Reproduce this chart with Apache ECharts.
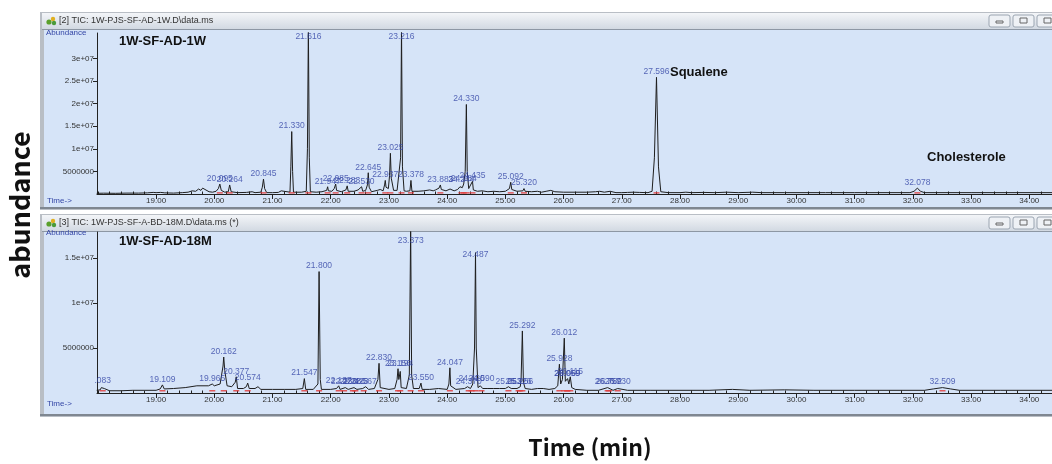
<!DOCTYPE html>
<html><head><meta charset="utf-8">
<script src="https://cdn.jsdelivr.net/npm/echarts@6/dist/echarts.min.js"></script>
<style>html,body{margin:0;padding:0;background:#fff}#c{width:1052px;height:464px}</style>
</head><body><div id="c"></div>
<script>
// ---------- DATA (abundance in millions, time in minutes) ----------
const xTicks = [19,20,21,22,23,24,25,26,27,28,29,30,31,32,33,34];
const yTickValsTop = [5,10,15,20,25,30];
const yTickLabelsTop = ['5000000','1e+07','1.5e+07','2e+07','2.5e+07','3e+07'];
const yTickValsBot = [5,10,15];
const yTickLabelsBot = ['5000000','1e+07','1.5e+07'];

const traceTop = [
[17.98,0.15],[18.10,0.18],[18.30,0.15],[18.50,0.2],[18.70,0.2],[18.85,0.25],[18.95,0.35],[19.00,0.3],[19.08,0.35],[19.15,0.25],
[19.30,0.2],[19.45,0.3],[19.55,0.4],[19.62,0.7],[19.68,0.6],[19.73,1.1],[19.77,0.8],[19.80,1.3],[19.84,1.0],[19.87,1.2],
[19.91,0.5],[19.97,0.4],[20.03,0.6],[20.07,1.2],[20.095,2.2],[20.12,0.8],[20.18,0.4],[20.24,0.5],[20.264,2.0],[20.29,0.5],
[20.40,0.3],[20.55,0.35],[20.65,0.5],[20.70,0.3],[20.80,0.4],[20.825,1.5],[20.845,3.3],[20.865,1.2],[20.90,0.3],[21.00,0.3],
[21.10,0.35],[21.15,0.7],[21.18,0.3],[21.30,0.4],[21.315,6],[21.330,13.8],[21.345,5],[21.36,0.4],[21.50,0.4],[21.58,0.6],
[21.60,10],[21.616,37],[21.632,8],[21.65,0.5],[21.75,0.4],[21.85,0.5],[21.93,0.8],[21.947,1.6],[21.96,0.7],[22.02,0.6],
[22.06,1.2],[22.085,2.2],[22.10,0.8],[22.18,0.5],[22.26,0.9],[22.283,1.8],[22.30,0.6],[22.40,0.6],[22.47,0.9],[22.50,1.2],
[22.530,1.6],[22.55,0.6],[22.60,0.8],[22.63,2],[22.645,4.7],[22.66,1.5],[22.70,0.5],[22.80,0.8],[22.85,1.0],[22.90,0.7],
[22.925,2.0],[22.937,3.0],[22.95,1.5],[22.99,1.2],[23.01,4],[23.025,9.0],[23.04,3.5],[23.08,0.8],[23.14,0.8],[23.20,8],
[23.216,37],[23.232,6],[23.26,0.7],[23.30,0.6],[23.36,0.7],[23.378,3.0],[23.395,0.6],[23.50,0.6],[23.60,0.7],[23.70,0.9],
[23.76,0.7],[23.80,0.9],[23.86,1.3],[23.883,2.0],[23.90,1.0],[23.98,0.7],[24.05,1.1],[24.12,0.7],[24.18,1.0],[24.22,1.6],
[24.244,1.9],[24.26,1.4],[24.284,2.2],[24.31,5],[24.330,19.8],[24.345,5],[24.37,1.2],[24.40,1.4],[24.435,2.8],[24.45,0.9],
[24.52,0.6],[24.60,0.7],[24.70,0.5],[24.80,0.6],[24.90,0.5],[25.00,0.6],[25.07,1.2],[25.092,2.6],[25.11,1.0],[25.20,0.6],
[25.30,0.7],[25.320,1.2],[25.34,0.6],[25.45,0.5],[25.55,0.6],[25.62,0.4],[25.70,0.6],[25.78,0.8],[25.85,0.5],[26.00,0.4],
[26.20,0.4],[26.40,0.4],[26.55,0.5],[26.62,0.6],[26.70,0.4],[26.80,0.6],[26.90,0.3],[27.00,0.3],[27.10,0.35],[27.20,0.4],
[27.30,0.35],[27.45,0.3],[27.52,0.6],[27.56,8],[27.596,25.8],[27.63,6],[27.67,0.5],[27.80,0.3],[28.00,0.3],[28.10,0.4],
[28.20,0.3],[28.40,0.35],[28.60,0.3],[28.80,0.4],[29.00,0.3],[29.25,0.4],[29.40,0.3],[29.80,0.3],[30.50,0.3],[31.00,0.3],
[31.60,0.3],[31.95,0.3],[32.02,0.6],[32.078,1.3],[32.13,0.6],[32.20,0.3],[33.00,0.3],[34.40,0.3]
];
const peaksTop = [
[20.095,2.2],[20.264,2.0],[20.845,3.3],[21.330,13.8],[21.616,33.6],[21.947,1.6],[22.085,2.2],[22.283,1.8],[22.530,1.6],
[22.645,4.7],[22.937,3.0],[23.025,9.0],[23.216,33.6],[23.378,3.0],[23.883,2.0],[24.244,2.0],[24.284,2.2],[24.330,19.8],
[24.435,2.8],[25.092,2.6],[25.320,1.2],[27.596,25.8],[32.078,1.3]
];

const traceBot = [
[17.98,0.3],[18.04,0.35],[18.06,0.6],[18.083,0.8],[18.11,0.5],[18.20,0.25],[18.40,0.25],[18.60,0.3],[18.80,0.3],[19.00,0.3],
[19.07,0.45],[19.109,0.9],[19.14,0.45],[19.30,0.5],[19.50,0.6],[19.70,0.8],[19.90,0.8],[19.965,1.0],[20.00,0.8],[20.10,1.0],
[20.15,3.0],[20.162,4.0],[20.18,2.5],[20.22,0.8],[20.30,0.7],[20.36,1.2],[20.377,1.8],[20.40,0.5],[20.50,0.5],[20.55,0.7],
[20.574,1.1],[20.60,0.5],[20.70,0.5],[20.75,0.7],[20.80,0.4],[21.00,0.4],[21.20,0.4],[21.40,0.4],[21.52,0.5],[21.547,1.6],
[21.57,0.4],[21.70,0.4],[21.78,1.0],[21.800,13.5],[21.82,1.5],[21.84,0.4],[22.00,0.4],[22.10,0.5],[22.137,0.8],[22.16,0.4],
[22.25,0.6],[22.30,0.4],[22.40,0.6],[22.45,0.4],[22.55,0.5],[22.60,0.7],[22.65,0.4],[22.75,0.5],[22.81,1.5],[22.830,3.3],
[22.85,0.6],[23.00,0.4],[23.10,0.5],[23.14,1.5],[23.156,2.7],[23.17,1.5],[23.194,2.4],[23.21,0.6],[23.30,0.5],[23.35,2],
[23.373,18.5],[23.39,2],[23.42,0.5],[23.52,0.5],[23.550,1.1],[23.57,0.4],[23.70,0.4],[23.85,0.5],[24.00,0.4],[24.03,1.0],
[24.047,2.8],[24.06,0.8],[24.15,0.4],[24.30,0.5],[24.35,0.7],[24.40,0.5],[24.44,1.0],[24.47,5],[24.487,15.6],[24.50,5],
[24.53,0.6],[24.570,0.8],[24.590,1.0],[24.61,0.5],[24.70,0.5],[24.80,0.5],[24.90,0.5],[25.00,0.5],[25.053,0.7],[25.10,0.5],
[25.20,0.5],[25.256,0.7],[25.27,1.5],[25.292,6.9],[25.31,1.2],[25.34,0.5],[25.45,0.4],[25.55,0.5],[25.65,0.5],[25.75,0.4],
[25.85,0.5],[25.90,0.8],[25.928,3.2],[25.95,1.0],[25.98,1.5],[26.012,6.1],[26.03,1.3],[26.069,1.6],[26.09,1.0],[26.115,1.8],
[26.14,0.6],[26.20,0.4],[26.40,0.3],[26.60,0.3],[26.757,0.6],[26.85,0.3],[26.930,0.5],[27.10,0.3],[27.50,0.3],[28.00,0.3],
[28.50,0.3],[28.90,0.4],[29.20,0.3],[29.80,0.35],[30.30,0.3],[31.00,0.3],[32.20,0.3],[32.35,0.45],[32.509,0.6],[32.65,0.45],
[32.80,0.3],[33.50,0.3],[34.40,0.3]
];
// third field: the label text as it shows (cut by the y axis)
const peaksBot = [
[18.083,0.8,'.083'],[19.109,0.9],[19.965,1.0],[20.162,4.0],[20.377,1.8],[20.574,1.1],[21.547,1.6],[21.800,13.5],[22.137,0.8],
[22.230,0.6],[22.380,0.6],[22.423,0.6],[22.567,0.7],[22.830,3.3],[23.156,2.7],[23.194,2.6],[23.373,16.3],[23.550,1.1],
[24.047,2.8],[24.370,0.7],[24.420,1.0],[24.487,14.8],[24.590,1.0],[25.053,0.7],[25.226,0.7],[25.256,0.7],[25.292,6.9],
[25.928,3.2],[26.012,6.1],[26.059,1.5],[26.069,1.5],[26.115,1.8],[26.757,0.6],[26.782,0.6],[26.930,0.6],[32.509,0.6]
];

// ---------- CHART ----------
const X_MIN = 17.985, X_MAX = 34.39;
const minorX = [];
for (let i = 0; i <= 82; i++) { const v = +(18.0 + i * 0.2).toFixed(1); if (v > X_MIN && v < X_MAX && !xTicks.includes(v)) minorX.push(v); }
function minorY(max){ const a=[]; for(let v=1; v<max; v++){ if(v%5) a.push(v);} return a; }

const axCol = '#222';
const lblFont = 'Liberation Sans, Arial, sans-serif';
const blue = '#3446a6';

function xMajor(grid){
  return {gridIndex:grid,type:'value',min:X_MIN,max:X_MAX,
    axisLine:{show:true,onZero:false,lineStyle:{color:axCol,width:1}},
    axisTick:{show:true,customValues:xTicks,length:5,lineStyle:{color:axCol}},
    axisLabel:{show:true,customValues:xTicks,formatter:v=>v.toFixed(2),fontSize:8,color:'#333',margin:3,fontFamily:lblFont},
    splitLine:{show:false}};
}
function xMinor(grid){
  return {gridIndex:grid,type:'value',min:X_MIN,max:X_MAX,
    axisLine:{show:false},axisTick:{show:true,customValues:minorX,length:2.5,lineStyle:{color:axCol}},
    axisLabel:{show:false},splitLine:{show:false}};
}
function yMajor(grid,max,vals,labels){
  return {gridIndex:grid,type:'value',min:0,max:max,
    axisLine:{show:true,onZero:false,lineStyle:{color:axCol,width:1}},
    axisTick:{show:true,customValues:vals,length:4,lineStyle:{color:axCol}},
    axisLabel:{show:true,customValues:vals,formatter:v=>labels[vals.indexOf(v)],fontSize:8,color:'#333',margin:3,fontFamily:lblFont},
    splitLine:{show:false}};
}
function yMinor(grid,max){
  return {gridIndex:grid,type:'value',min:0,max:max,
    axisLine:{show:false},axisTick:{show:true,customValues:minorY(max),length:1.5,lineStyle:{color:'#555'}},
    axisLabel:{show:false},splitLine:{show:false}};
}
function trace(xi,yi,data){
  return {type:'line',xAxisIndex:xi,yAxisIndex:yi,data:data,showSymbol:false,symbol:'none',clip:true,
    lineStyle:{color:'#1e1e1e',width:1},z:3,animation:false,silent:true};
}
function baseMarks(xi,yi,peaks){
  return {type:'scatter',xAxisIndex:xi,yAxisIndex:yi,data:peaks.map(p=>[p[0],0.25]),symbol:'rect',symbolSize:[6,1.5],
    itemStyle:{color:'#e04040',opacity:0.85},z:4,animation:false,silent:true};
}
function peakLabels(xi,yi,peaks){
  return {type:'scatter',xAxisIndex:xi,yAxisIndex:yi,data:peaks,symbolSize:0,z:5,animation:false,silent:true,
    label:{show:true,position:'top',distance:1,formatter:p=>(p.value[2]!==undefined?p.value[2]:p.value[0].toFixed(3)),fontSize:8.5,color:blue,fontFamily:lblFont},
    labelLayout:{hideOverlap:false}};
}

function windowChrome(y0,h,title){
  const els = [];
  els.push({type:'rect',shape:{x:40,y:y0,width:1012,height:h},style:{fill:'#b9bec5'},z:-10,silent:true});
  els.push({type:'rect',shape:{x:42,y:y0+1,width:1010,height:16},style:{fill:new echarts.graphic.LinearGradient(0,0,0,1,[{offset:0,color:'#f3f5f8'},{offset:1,color:'#d2d9e2'}])},z:-9,silent:true});
  els.push({type:'rect',shape:{x:42,y:y0+17,width:1010,height:1},style:{fill:'#8d97a4'},z:-9,silent:true});
  els.push({type:'rect',shape:{x:44,y:y0+18,width:1008,height:h-21},style:{fill:'#d6e4f8'},z:-9,silent:true});
  els.push({type:'rect',shape:{x:40,y:y0+h-3,width:1012,height:2},style:{fill:'#7f8791'},z:-8,silent:true});
  els.push({type:'circle',shape:{cx:49,cy:y0+10,r:2.6},style:{fill:'#5aa02c'},z:-8,silent:true});
  els.push({type:'circle',shape:{cx:53,cy:y0+7,r:2.2},style:{fill:'#e0b020'},z:-8,silent:true});
  els.push({type:'circle',shape:{cx:54,cy:y0+11,r:2.2},style:{fill:'#4a9a3a'},z:-8,silent:true});
  els.push({type:'text',style:{x:59,y:y0+9,text:title,fill:'#333',font:'9px '+lblFont,verticalAlign:'middle'},z:-7,silent:true});
  [989,1013,1037].forEach((bx,i)=>{
    els.push({type:'rect',shape:{x:bx,y:y0+3,width:21,height:12,r:2},style:{fill:'#eef1f5',stroke:'#9ba5b1',lineWidth:1},z:-7,silent:true});
    els.push({type:'rect',shape:{x:bx+7,y:y0+(i===0?9:6),width:7,height:(i===0?2:5)},style:{fill:'none',stroke:'#666',lineWidth:1},z:-6,silent:true});
  });
  return els;
}

const graphics = [].concat(
  windowChrome(12,198,'[2] TIC: 1W-PJS-SF-AD-1W.D\\data.ms'),
  windowChrome(214,203,'[3] TIC: 1W-PJS-SF-A-BD-18M.D\\data.ms (*)'),
  [
    {type:'text',style:{x:46,y:33,text:'Abundance',fill:blue,font:'8px '+lblFont,verticalAlign:'middle'},z:20,silent:true},
    {type:'text',style:{x:47,y:201,text:'Time->',fill:blue,font:'8px '+lblFont,verticalAlign:'middle'},z:20,silent:true},
    {type:'text',style:{x:46,y:233,text:'Abundance',fill:blue,font:'8px '+lblFont,verticalAlign:'middle'},z:20,silent:true},
    {type:'text',style:{x:47,y:404,text:'Time->',fill:blue,font:'8px '+lblFont,verticalAlign:'middle'},z:20,silent:true},
    {type:'text',style:{x:119,y:41,text:'1W-SF-AD-1W',fill:'#111',font:'bold 13px '+lblFont,verticalAlign:'middle'},z:20,silent:true},
    {type:'text',style:{x:119,y:241,text:'1W-SF-AD-18M',fill:'#111',font:'bold 13px '+lblFont,verticalAlign:'middle'},z:20,silent:true},
    {type:'text',style:{x:670,y:72,text:'Squalene',fill:'#111',font:'bold 13px '+lblFont,verticalAlign:'middle'},z:20,silent:true},
    {type:'text',style:{x:927,y:157,text:'Cholesterole',fill:'#111',font:'bold 13px '+lblFont,verticalAlign:'middle'},z:20,silent:true},
    {type:'text',rotation:Math.PI/2,x:20,y:205,style:{x:0,y:0,text:'abundance',fill:'#111',font:'bold 27px "Noto Sans CJK KR", "Noto Sans", sans-serif',align:'center',verticalAlign:'middle'},z:20,silent:true},
    {type:'text',style:{x:590,y:447,text:'Time (min)',fill:'#111',font:'bold 23px "Noto Sans CJK KR", "Noto Sans", sans-serif',align:'center',verticalAlign:'middle'},z:20,silent:true}
  ]
);

const chart = echarts.init(document.getElementById('c'), null, {renderer:'canvas'});
chart.setOption({
  animation:false,
  backgroundColor:'#ffffff',
  grid:[
    {left:97,right:0,top:33,height:161,containLabel:false},
    {left:97,right:0,top:232,height:161,containLabel:false}
  ],
  xAxis:[xMajor(0),xMinor(0),xMajor(1),xMinor(1)],
  yAxis:[yMajor(0,35.6,yTickValsTop,yTickLabelsTop),yMinor(0,35.6),yMajor(1,17.9,yTickValsBot,yTickLabelsBot),yMinor(1,17.9)],
  graphic:graphics,
  series:[
    trace(0,0,traceTop), baseMarks(0,0,peaksTop), peakLabels(0,0,peaksTop),
    trace(2,2,traceBot), baseMarks(2,2,peaksBot), peakLabels(2,2,peaksBot)
  ]
});
</script></body></html>
